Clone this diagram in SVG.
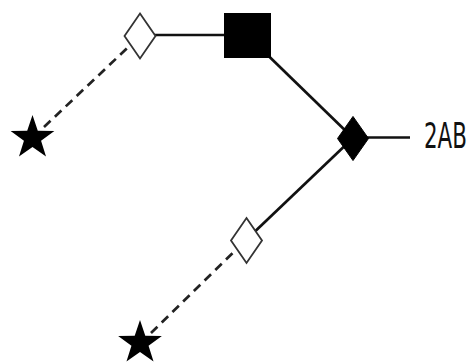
<svg xmlns="http://www.w3.org/2000/svg" width="471" height="362" viewBox="0 0 471 362">
  <style>
    .solid { stroke: #111; stroke-width: 2.7; fill: none; }
    .dash { stroke: #222; stroke-width: 2.7; fill: none; stroke-dasharray: 9 6; }
    .open { fill: #fff; stroke: #333; stroke-width: 1.8; }
    .filled { fill: #000; stroke: #000; stroke-width: 1; }
    .label { font-family: "DejaVu Sans Condensed", "DejaVu Sans", sans-serif; font-size: 35px; fill: #111; }
  </style>
  <defs>
    <path id="star" d="M0,-23 L5.29,-7.28 L21.87,-7.11 L8.56,2.78 L13.52,18.61 L0,9 L-13.52,18.61 L-8.56,2.78 L-21.87,-7.11 L-5.29,-7.28 Z"/>
    <path id="diamond" d="M0,-22.5 L15.5,0 L0,22.5 L-15.5,0 Z"/>
  </defs>
  <rect width="471" height="362" fill="#fff"/>
  <g id="connectors">
    <line class="dash" x1="44" y1="127" x2="140" y2="36"/>
    <line class="solid" x1="140" y1="35" x2="247" y2="35"/>
    <line class="solid" x1="247.5" y1="35.5" x2="353" y2="138"/>
    <line class="solid" x1="353" y1="137.5" x2="410" y2="137.5"/>
    <line class="solid" x1="246" y1="240" x2="353" y2="138"/>
    <line class="dash" x1="151" y1="333" x2="246" y2="240"/>
  </g>
  <g id="star1"><use href="#star" transform="translate(32.5,138)" fill="#000"/></g>
  <g id="star2"><use href="#star" transform="translate(140,343)" fill="#000"/></g>
  <g id="diamond1"><use href="#diamond" class="open" transform="translate(140,36)"/></g>
  <g id="square"><rect class="filled" x="224.5" y="13.5" width="46" height="44"/></g>
  <g id="blackdiamond"><use href="#diamond" class="filled" transform="translate(353,138.5) scale(1,0.98)"/></g>
  <g id="diamond2"><use href="#diamond" class="open" transform="translate(246.5,240.5)"/></g>
  <g id="label2AB"><text class="label" transform="translate(424,148) scale(0.68,1)" x="0" y="0">2AB</text></g>
</svg>
